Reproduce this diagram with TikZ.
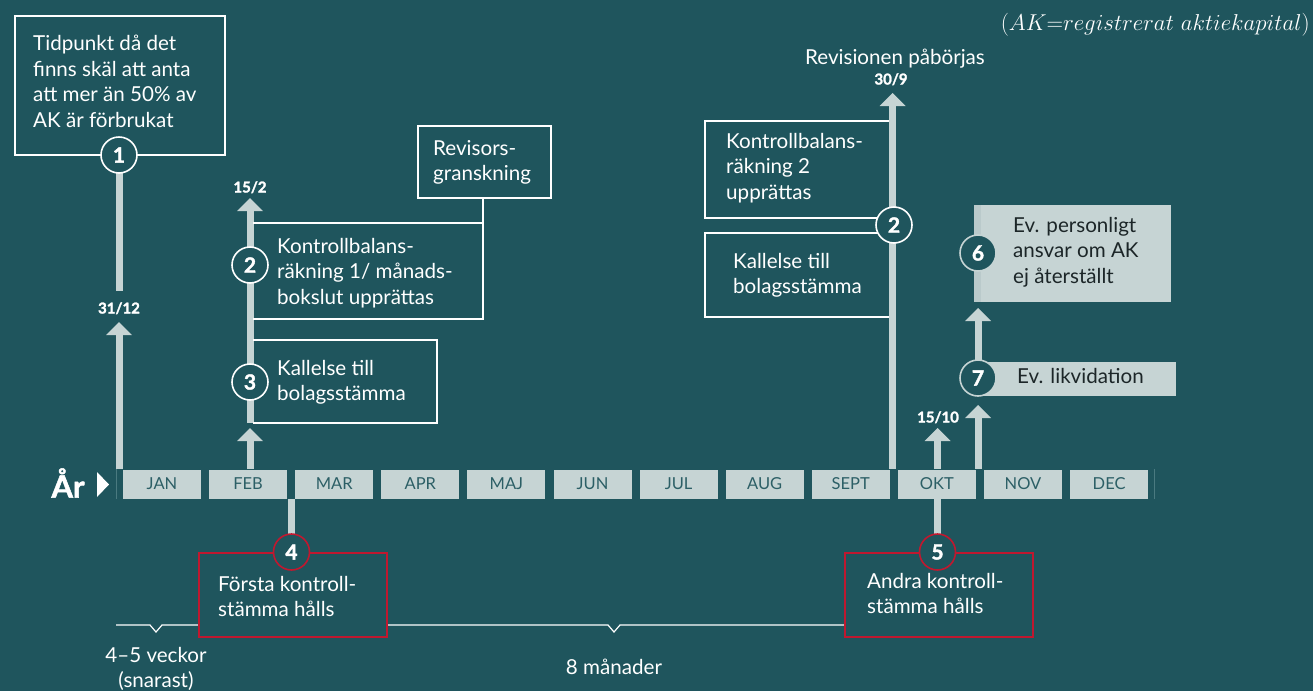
\documentclass[tikz,border=0pt]{standalone}
\usepackage{fontspec}
\newfontfamily\lato{Lato}
\newfontfamily\latoblk{Lato}[BoldFeatures={FakeBold=1.6}]
\definecolor{bgc}{HTML}{1F555D}
\definecolor{lightc}{HTML}{C6D4D4}
\definecolor{stripc}{HTML}{BACACB}
\definecolor{monthc}{HTML}{2C5F66}
\definecolor{redc}{HTML}{C0182F}
\definecolor{darkc}{HTML}{1C2628}
\definecolor{edgec}{HTML}{4A7A80}
\newcommand\tlarrow[3]{%
  \fill[lightc] ({#1-3.5},#3) rectangle ({#1+3.5},{#2+12});
  \fill[lightc] ({#1-13},{#2+13}) -- (#1,#2) -- ({#1+13},{#2+13}) -- cycle;}
\tikzset{
  txt/.style={font=\lato\fontsize{20.6}{25.5}\selectfont, text=white, align=left, inner sep=0pt, anchor=north west},
  dtxt/.style={txt, text=darkc},
  num/.style={circle, draw=white, line width=1.6pt, fill=bgc, minimum size=36pt, inner sep=0pt, font=\latoblk\bfseries\fontsize{21}{21}\selectfont, text=white},
  lnum/.style={num, draw=lightc},
  rnum/.style={num, draw=redc},
  datel/.style={font=\latoblk\bfseries\fontsize{15}{15}\selectfont, text=white, inner sep=0pt, anchor=base},
  month/.style={fill=lightc, minimum width=78pt, minimum height=29pt, inner sep=0pt, font=\lato\fontsize{16.5}{16.5}\selectfont, text=monthc},
  wline/.style={draw=white, line width=1.5pt},
  rline/.style={draw=redc, line width=1.8pt},
  barl/.style={draw=lightc, line width=7pt},
}
\begin{document}
\begin{tikzpicture}[x=1pt,y=-1pt]
\fill[bgc] (0,0) rectangle (1313,691);
\useasboundingbox (0,0) rectangle (1313,691);

% note
\node[anchor=east, inner sep=0pt, text=white, font=\fontsize{20.74}{24}\selectfont] (note) at (1310,25) {\resizebox{309pt}{!}{$(AK{=}registrerat\ aktiekapital)$}};

% timeline
\node[font=\latoblk\bfseries\fontsize{31}{31}\selectfont, text=white, inner sep=0pt] (ar) at (68,483) {År};
\fill[white] (97,472) -- (109,484.5) -- (97,497) -- cycle;
\draw[edgec, line width=0.8pt] (116,469) -- (116,499);
\draw[edgec, line width=0.8pt] (1154,469) -- (1154,499);
\foreach \m [count=\i from 0] in {JAN,FEB,MAR,APR,MAJ,JUN,JUL,AUG,SEPT,OKT,NOV,DEC}
  \node[month] (m\i) at ({162+86.1*\i},484) {\m};

% arrows
\tlarrow{119}{322}{469}
\tlarrow{250}{198}{423}
\tlarrow{250}{428}{469}
\tlarrow{892.5}{93}{469}
\tlarrow{937.5}{428}{469}
\tlarrow{978}{308}{362}
\tlarrow{978}{405}{469}
\draw[barl] (119,170) -- (119,291);
\draw[barl] (291.5,499) -- (291.5,536);
\draw[barl] (937.5,499) -- (937.5,536);

% date labels
\node[datel] (d1) at (119,313.5) {31/12};
\node[datel] (d2) at (250,192.5) {15/2};
\node[datel] (d3) at (891,84.5) {30/9};
\node[datel] (d4) at (938,422.5) {15/10};
\node[font=\lato\fontsize{20.6}{24}\selectfont, text=white, inner sep=0pt, anchor=base] (rev0) at (895,64.5) {Revisionen påbörjas};

% box 1
\node[wline, anchor=north west, minimum width=210pt, minimum height=139pt, inner sep=0pt] (b1) at (14,15) {};
\node[txt] (t1) at (33,35) {Tidpunkt då det\\finns skäl att anta\\att mer än 50\% av\\AK är förbrukat};
\node[num] (c1) at (119,155) {1};

% Revisorsgranskning
\node[wline, anchor=north west, minimum width=133pt, minimum height=72pt, inner sep=0pt] (rev) at (417,125) {};
\node[txt] (trev) at (433,140) {Revisors-\\granskning};
\draw[wline] (483,197) -- (483,223);

% box 2 (feb)
\draw[wline] (253,223) -- (483,223) -- (483,319) -- (253,319);
\node[txt] (t2) at (277,238) {Kontrollbalans-\\räkning 1/ månads-\\bokslut upprättas};
\node[num] (c2) at (250,265) {2};

% box 3
\draw[wline] (253,340) -- (437,340) -- (437,423) -- (253,423);
\node[txt] (t3) at (277,360) {Kallelse till\\bolagsstämma};
\node[num] (c3) at (250,382) {3};

% sept boxes
\draw[wline] (889,121) -- (705,121) -- (705,218) -- (889,218);
\node[txt] (tk2) at (726,133) {Kontrollbalans-\\räkning 2\\upprättas};
\draw[wline] (889,233) -- (705,233) -- (705,317) -- (889,317);
\node[txt] (tkal) at (733,253) {Kallelse till\\bolagsstämma};
\node[num] (c2b) at (894,225) {2};

% box 6 and 7
\fill[lightc] (974,205) rectangle (1171,302);
\fill[stripc] (974,205) rectangle (981,302);
\node[dtxt] (t6) at (1013,217) {Ev. personligt\\ansvar om AK\\ej återställt};
\node[lnum] (c6) at (978,253) {6};
\fill[lightc] (978,362) rectangle (1176,396);
\node[dtxt] (t7) at (1017,368) {Ev. likvidation};
\node[lnum] (c7) at (978,378) {7};

% bracket
\draw[white, line width=1.2pt] (116,625) -- (150,625) -- (156,632) -- (162,625) -- (198,625);
\draw[white, line width=1.2pt] (386,625) -- (608,625) -- (614,632) -- (620,625) -- (844,625);

% box 4 and 5
\node[rline, fill=bgc, anchor=north west, minimum width=188pt, minimum height=84pt, inner sep=0pt] (b4) at (198,552) {};
\node[txt] (t4) at (218,576) {Första kontroll-\\stämma hålls};
\node[rnum] (c4) at (291.5,552) {4};
\node[rline, fill=bgc, anchor=north west, minimum width=188pt, minimum height=84pt, inner sep=0pt] (b5) at (844,552) {};
\node[txt] (t5) at (867,573) {Andra kontroll-\\stämma hålls};
\node[rnum] (c5) at (937.5,552) {5};

% bottom labels
\node[txt, anchor=north, align=center] (l45) at (156,647) {4–5 veckor\\(snarast)};
\node[font=\lato\fontsize{20.6}{24}\selectfont, text=white, inner sep=0pt, anchor=base] (l8) at (614,674) {8 månader};
\end{tikzpicture}
\end{document}
